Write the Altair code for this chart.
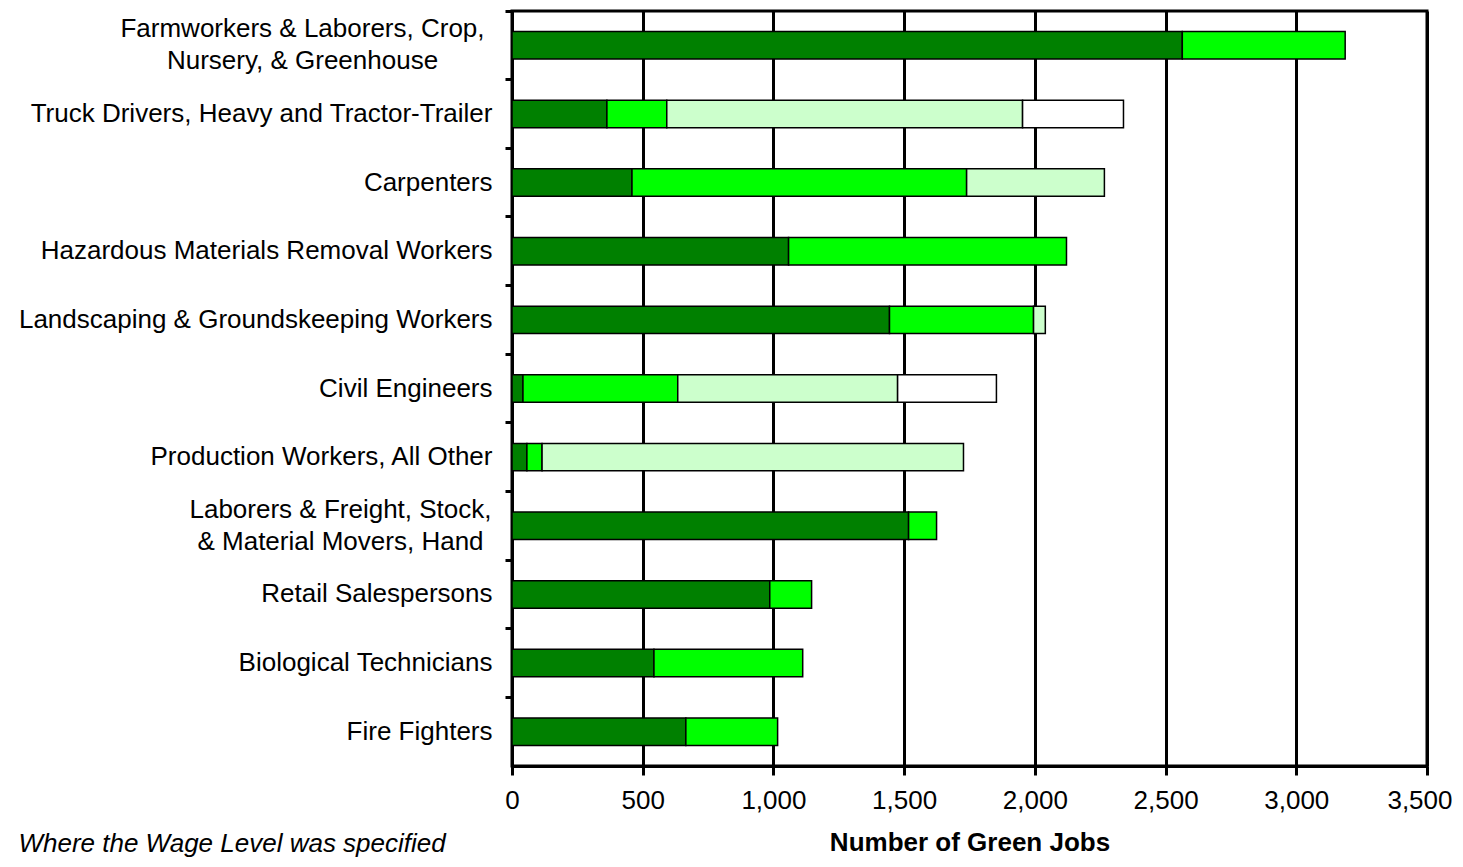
import altair as alt
import pandas as pd

categories = [
    "Farmworkers & Laborers, Crop,|Nursery, & Greenhouse",
    "Truck Drivers, Heavy and Tractor-Trailer",
    "Carpenters",
    "Hazardous Materials Removal Workers",
    "Landscaping & Groundskeeping Workers",
    "Civil Engineers",
    "Production Workers, All Other",
    "Laborers & Freight, Stock,|& Material Movers, Hand",
    "Retail Salespersons",
    "Biological Technicians",
    "Fire Fighters",
]
series_names = ["Level 1", "Level 2", "Level 3", "Level 4"]
level1 = [2564, 363, 459, 1058, 1444, 42, 57, 1517, 986, 543, 665]
level2 = [623, 229, 1280, 1063, 551, 592, 58, 107, 160, 569, 351]
level3 = [0, 1361, 527, 0, 45, 841, 1612, 0, 0, 0, 0]
level4 = [0, 386, 0, 0, 0, 378, 0, 0, 0, 0, 0]
colors = ["#008000", "#00FF00", "#CCFFCC", "#FFFFFF"]
x_ticks = [0, 500, 1000, 1500, 2000, 2500, 3000, 3500]

rows = []
for i, cat in enumerate(categories):
    for k, vals in enumerate([level1, level2, level3, level4]):
        if vals[i] > 0:
            rows.append({"category": cat, "series": series_names[k], "order": k, "value": vals[i]})
df = pd.DataFrame(rows)

W, H = 915, 755
FONT = "Liberation Sans"
FS = 26

multi_test = "indexof(datum.value, '|') >= 0"
farm_test = "indexof(datum.value, 'Farmworkers') >= 0"
last_test = "datum.value >= 3500"

chart = alt.Chart(df).mark_bar(
    stroke="black", strokeWidth=1.5, height=alt.RelativeBandSize(0.4)
).encode(
    x=alt.X(
        "value:Q",
        stack="zero",
        scale=alt.Scale(domain=[0, 3500], nice=False),
        axis=alt.Axis(
            values=x_ticks, format=",d", title="Number of Green Jobs",
            titleFont=FONT, titleFontSize=FS, titleFontWeight="bold", titleColor="black",
            titlePadding=16,
            labelFont=FONT, labelFontSize=FS, labelColor="black", labelPadding=12,
            labelFlush=False, labelOverlap=False,
            labelAlign=alt.ConditionalAxisLabelAlign(
                condition={"test": last_test, "value": "right"}, value="center"
            ),
            labelOffset=alt.ConditionalAxisNumber(
                condition={"test": last_test, "value": 25}, value=0
            ),
            grid=True, gridColor="black", gridWidth=3, gridOpacity=1,
            domainColor="black", domainWidth=3,
            tickColor="black", tickWidth=3, tickSize=9,
        ),
    ),
    y=alt.Y(
        "category:N",
        sort=categories,
        scale=alt.Scale(paddingInner=0, paddingOuter=0),
        axis=alt.Axis(
            title=None, bandPosition=0,
            labelExpr="split(datum.label, '|')",
            labelFont=FONT, labelFontSize=FS, labelColor="black", labelLineHeight=32,
            labelAlign=alt.ConditionalAxisLabelAlign(
                condition={"test": multi_test, "value": "center"}, value="right"
            ),
            labelPadding=alt.ConditionalAxisNumber(
                condition=[
                    {"test": farm_test, "value": 203},
                    {"test": multi_test, "value": 165},
                ],
                value=13,
            ),
            labelOffset=alt.ConditionalAxisNumber(
                condition={"test": multi_test, "value": -16}, value=0
            ),
            labelLimit=0,
            domainColor="black", domainWidth=3,
            tickColor="black", tickWidth=3, tickSize=7,
            grid=False,
        ),
    ),
    color=alt.Color("series:N", scale=alt.Scale(domain=series_names, range=colors), legend=None),
    order=alt.Order("order:Q"),
).properties(
    width=W, height=H,
    padding={"left": 10, "top": 1, "right": 0, "bottom": 0},
    title=alt.TitleParams(
        "Where the Wage Level was specified", orient="bottom", anchor="start",
        frame="bounds", font=FONT, fontSize=FS, fontStyle="italic",
        fontWeight="normal", color="black", offset=-24,
    ),
).configure_view(
    stroke="black", strokeWidth=3
)

chart.save("out.html", embed_options={"renderer": "svg", "actions": False})
